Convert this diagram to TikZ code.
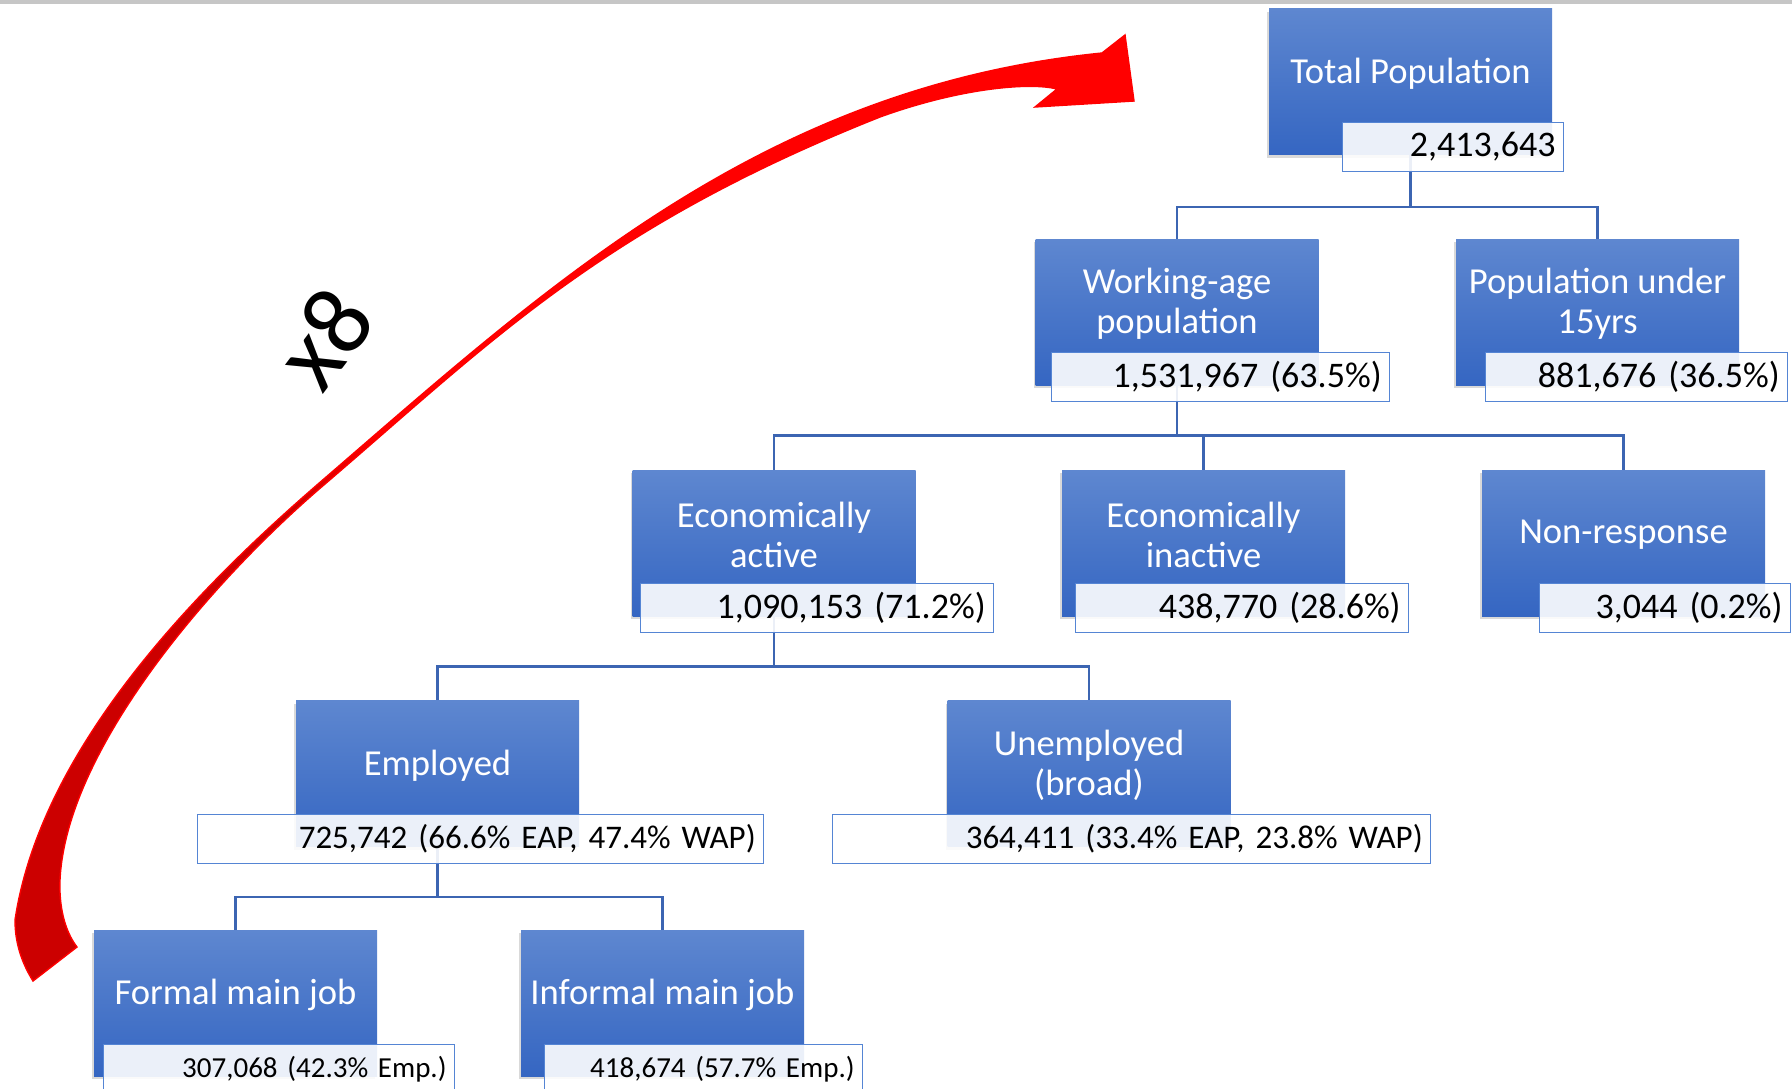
\documentclass[tikz,border=0pt]{standalone}
\usepackage{fontspec}
\setmainfont{Carlito}
\usepackage{tikz}
\usetikzlibrary{shadows}
\definecolor{boxtop}{HTML}{5E87D0}
\definecolor{boxbot}{HTML}{3566C2}
\definecolor{linkblue}{HTML}{3C65B2}
\definecolor{valline}{HTML}{5585D4}
\definecolor{arrdark}{HTML}{CC0000}
\pgfdeclareverticalshading{arrowshade}{100bp}{color(0bp)=(arrdark); color(50bp)=(arrdark); color(54bp)=(red); color(100bp)=(red)}

\begin{document}
\begin{tikzpicture}[x=0.5pt, y=-0.5pt,
  catbox/.style={rectangle, minimum width=141.5pt, minimum height=73pt, inner sep=0pt,
    top color=boxtop, bottom color=boxbot,
    drop shadow={shadow xshift=-1pt, shadow yshift=-1.5pt, opacity=0.3}},
  cattext/.style={text=white, align=center, font=\fontsize{18.3}{20}\selectfont},
  valbox/.style={rectangle, anchor=north west, draw=valline, line width=0.6pt,
    fill=white, fill opacity=0.9, text opacity=1, inner xsep=4pt, inner ysep=0pt,
    minimum height=24.5pt, align=right, font=\fontsize{18}{20}\selectfont},
  link/.style={draw=linkblue, line width=1.1pt}]
        \useasboundingbox (0,0) rectangle (1792,1088);
        \fill[gray!45] (0,0) rectangle (1792,4);
        % curved arrow, x8
        \path[shade, shading=arrowshade, draw=red, line width=0.7pt]
            (77,947) -- (33,981)
            .. controls (20,960) and (15,940) .. (15,920)
            .. controls (42,740) and (211,576) .. (325,478)
            .. controls (552,282) and (764,87) .. (1102,53)
            -- (1125,35) -- (1134,101) -- (1035,107) -- (1057,89)
            .. controls (1030,82) and (960,88) .. (880,117)
            .. controls (601,228) and (492,341) .. (325,484)
            .. controls (211,581) and (66,750) .. (60,880)
            .. controls (59,905) and (64,930) .. (77,947)
            -- cycle;
        \node[rotate=53, font=\fontsize{50}{50}\selectfont] (mult) at (324,338) {x8};
        % boxes
        \foreach \n/\x/\y/\t in {c0/1410.5/81.5/{Total Population},
                c1/1177/312/{Working-age\\population}, c2/1597.5/312/{Population under\\15yrs},
                c3/774/543/{Economically\\active}, c4/1203.5/543/{Economically\\inactive},
                c5/1623.5/543/{Non-response},
                c6/437.5/773.5/{Employed}, c7/1089/773.5/{Unemployed\\(broad)},
                c8/235.5/1003/{Formal main job}, c9/662.5/1003/{Informal main job}}
        {
            \node[catbox] (\n) at (\x,\y) {};
            \node[cattext] (\n t) at ([yshift=4pt]\n.center) {\t};
        }
        % connectors
        \draw[link] (c0.south) -- ++(0,52) -| (c1.north);
        \draw[link] (c0.south) -- ++(0,52) -| (c2.north);
        \draw[link] (c1.south) -- ++(0,50) -| (c3.north);
        \draw[link] (c1.south) -- ++(0,50) -| (c4.north);
        \draw[link] (c1.south) -- ++(0,50) -| (c5.north);
        \draw[link] (c3.south) -- ++(0,50) -| (c6.north);
        \draw[link] (c3.south) -- ++(0,50) -| (c7.north);
        \draw[link] (c6.south) -- ++(0,50) -| (c8.north);
        \draw[link] (c6.south) -- ++(0,50) -| (c9.north);
        % values
        \node[valbox, text width=102.5pt] (v0) at (1342,122) {2,413,643};
        \node[valbox, text width=161pt] (v1) at (1051,352) {1,531,967 (63.5\%)};
        \node[valbox, text width=143pt] (v2) at (1485,352) {881,676 (36.5\%)};
        \node[valbox, text width=168.5pt] (v3) at (640,583) {1,090,153 (71.2\%)};
        \node[valbox, text width=158.5pt] (v4) at (1075,583) {438,770 (28.6\%)};
        \node[valbox, text width=117.5pt] (v5) at (1539,583) {3,044 (0.2\%)};
        \node[valbox, text width=275pt, font=\fontsize{16.5}{18}\selectfont] (v6) at (197,814) {725,742 (66.6\% EAP, 47.4\% WAP)};
        \node[valbox, text width=291pt, font=\fontsize{16.5}{18}\selectfont] (v7) at (832,814) {364,411 (33.4\% EAP, 23.8\% WAP)};
        \node[valbox, text width=167.5pt, font=\fontsize{14.5}{16}\selectfont] (v8) at (103,1044) {307,068 (42.3\% Emp.)};
        \node[valbox, text width=151pt, font=\fontsize{14.5}{16}\selectfont] (v9) at (544,1044) {418,674 (57.7\% Emp.)};
\end{tikzpicture}
\end{document}
